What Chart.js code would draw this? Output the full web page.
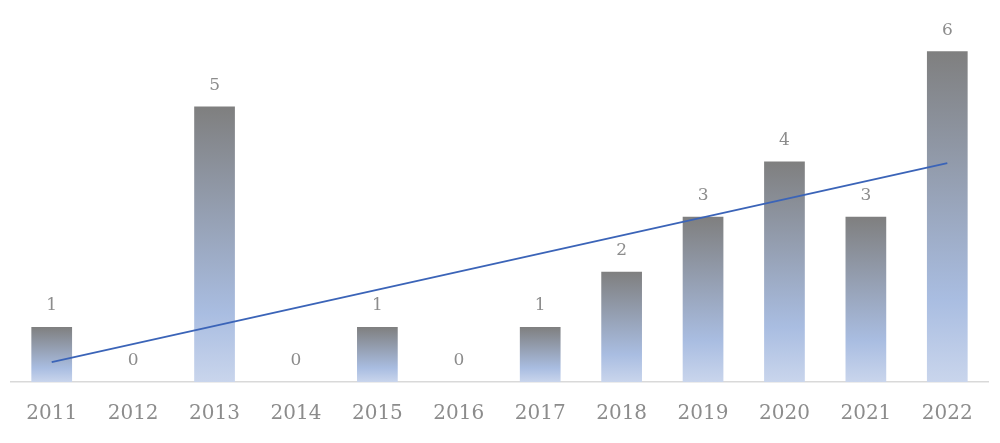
<!DOCTYPE html>
<html>
<head>
<meta charset="utf-8">
<script src="https://cdn.jsdelivr.net/npm/chart.js@4/dist/chart.umd.min.js"></script>
<style>
    html, body { margin: 0; padding: 0; background: #fff; }
    #wrap { width: 1000px; height: 443px; }
</style>
</head>
<body>
<div id="wrap"><canvas id="myChart" width="1000" height="443"></canvas></div>
<script>
const years = ["2011", "2012", "2013", "2014", "2015", "2016", "2017", "2018", "2019", "2020", "2021", "2022"]
const counts = [1, 0, 5, 0, 1, 0, 1, 2, 3, 4, 3, 6]
// trend line: only the two ends are drawn
const trend = [0.36, null, null, null, null, null, null, null, null, null, null, 3.97]

// per-bar gradient, grey at the top fading to pale blue at the base
function barFill(context) {
    const chart = context.chart
    const yScale = chart.scales.y
    if (!chart.chartArea || !yScale || context.parsed == null) return "#8a96a8"
    const top = yScale.getPixelForValue(context.parsed.y)
    const base = yScale.getPixelForValue(0)
    if (base - top < 1) return "#c8d4ec"
    const g = chart.ctx.createLinearGradient(0, top, 0, base)
    g.addColorStop(0, "#7f7f7f")
    g.addColorStop(0.75, "#a9bde1")
    g.addColorStop(1, "#c9d5ec")
    return g
}

const valueLabels = {
    id: "valueLabels",
    afterDatasetsDraw(chart) {
        const ctx = chart.ctx
        const meta = chart.getDatasetMeta(1)
        ctx.save()
        ctx.font = "17px 'DejaVu Serif'"
        ctx.fillStyle = "#8c8c8c"
        ctx.textAlign = "center"
        ctx.textBaseline = "middle"
        meta.data.forEach((bar, ix) => {
            ctx.fillText(String(counts[ix]), bar.x, bar.y - 21)
        })
        ctx.restore()
    }
}

const chart = new Chart(document.getElementById("myChart"), {
    type: "bar",
    data: {
        labels: years,
        datasets: [
            {
                type: "line",
                data: trend,
                borderColor: "#3b64b8",
                borderWidth: 1.8,
                pointRadius: 0,
                fill: false,
                spanGaps: true,
                order: 0
            },
            {
                data: counts,
                backgroundColor: barFill,
                borderWidth: 0,
                categoryPercentage: 1,
                barPercentage: 0.5,
                order: 1
            }
        ]
    },
    options: {
        responsive: false,
        animation: false,
        layout: {
            padding: { left: 11, right: 12, top: 0, bottom: 5 }
        },
        scales: {
            x: {
                grid: { display: false },
                border: { display: true, color: "#d9d9d9", width: 1.5 },
                ticks: {
                    color: "#8c8c8c",
                    font: { family: "'DejaVu Serif'", size: 20 },
                    padding: 12,
                    maxRotation: 0
                }
            },
            y: {
                display: false,
                min: 0,
                max: 6.93
            }
        },
        plugins: {
            legend: { display: false },
            tooltip: { enabled: false }
        }
    },
    plugins: [valueLabels]
})
</script>
</body>
</html>
